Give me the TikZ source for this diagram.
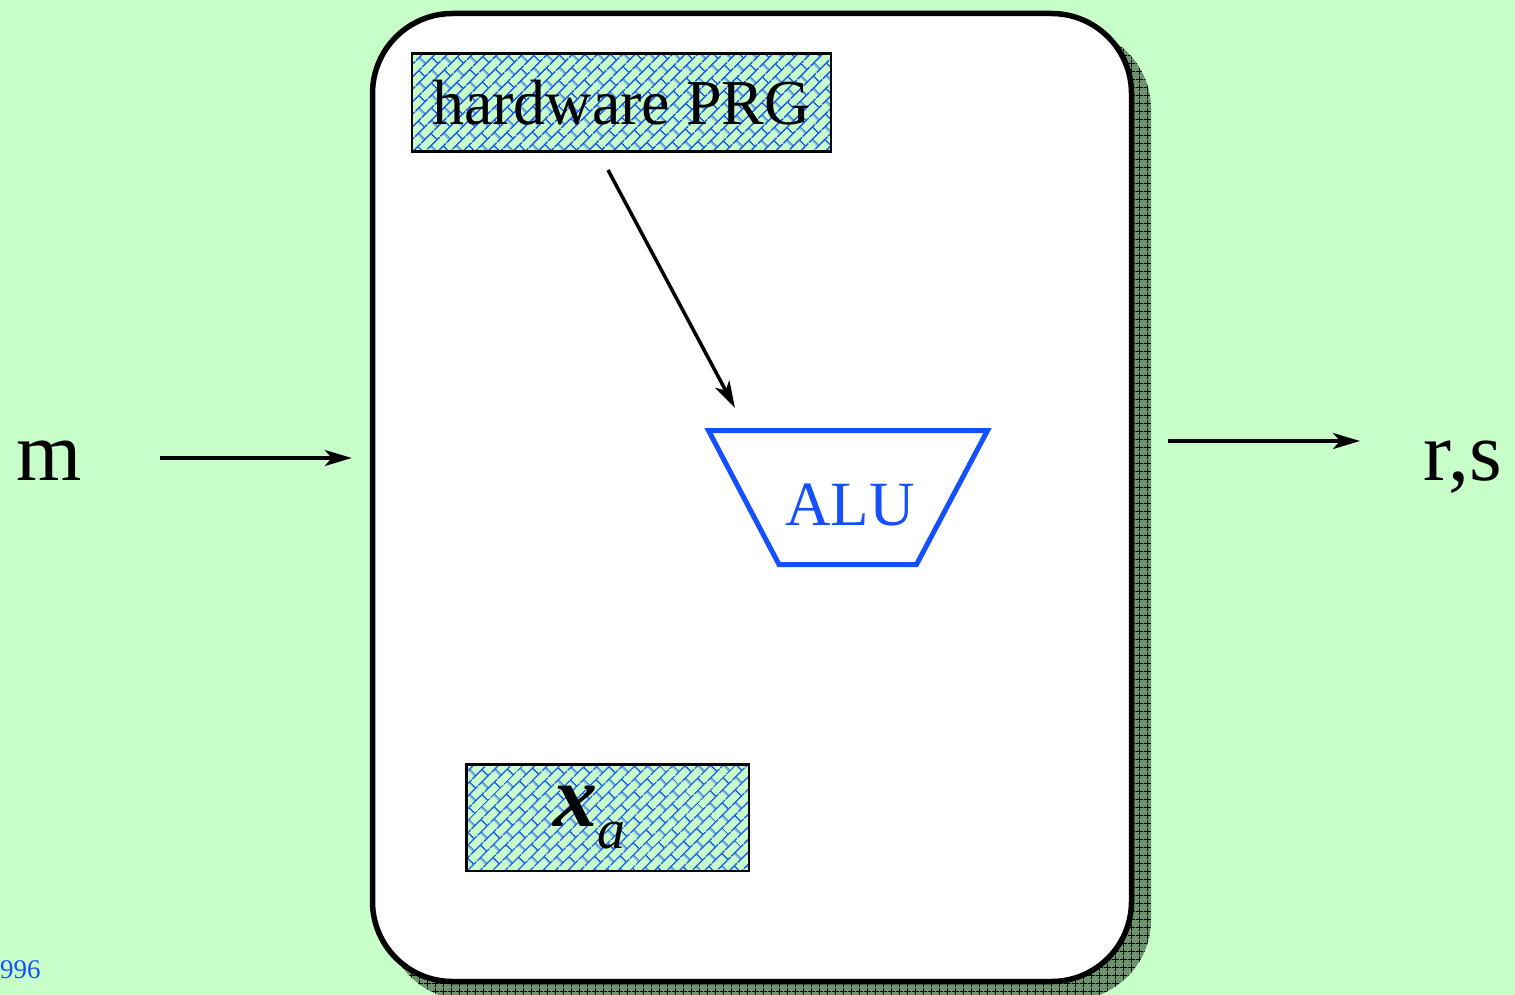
\documentclass[tikz,border=0pt]{standalone}
\usepackage{fontspec}
\setmainfont{Liberation Serif}
\usetikzlibrary{patterns.meta,arrows.meta}
\definecolor{bgc}{RGB}{200,255,200}
\definecolor{alublue}{RGB}{20,80,255}
\definecolor{patblue}{RGB}{35,95,245}
\definecolor{shgreen}{RGB}{108,148,108}
\tikzdeclarepattern{
  name=bricks, type=uncolored,
  bottom left={(0pt,0pt)}, top right={(18pt,18pt)}, tile size={(18pt,18pt)},
  tile transformation={rotate=45},
  code={\draw[line width=1.6pt] (0pt,4.5pt)--(18pt,4.5pt) (0pt,13.5pt)--(18pt,13.5pt) (4.5pt,4.5pt)--(4.5pt,13.5pt) (13.5pt,13.5pt)--(13.5pt,18pt) (13.5pt,0pt)--(13.5pt,4.5pt);}
}
\tikzdeclarepattern{
  name=shgrid, type=uncolored,
  bottom left={(0pt,0pt)}, top right={(8pt,8pt)}, tile size={(8pt,8pt)},
  code={\draw[line width=0.8pt] (0pt,4pt)--(8pt,4pt) (4pt,0pt)--(4pt,8pt);}
}
\tikzset{
  arr/.style={line width=3.5pt, -{Stealth[length=27pt,width=16pt,inset=7pt]}},
  hatchbox/.style={draw, line width=2.5pt, inner sep=0pt, preaction={fill=bgc}, pattern=bricks, pattern color=patblue},
  shadowbox/.style={inner sep=0pt, rounded corners=80pt, preaction={fill=shgreen}, pattern=shgrid, pattern color=black},
  mainbox/.style={draw, line width=5.5pt, fill=white, inner sep=0pt, rounded corners=80pt},
  bigtxt/.style={inner sep=0pt, font=\fontsize{84}{84}\selectfont},
}
\begin{document}
\begin{tikzpicture}[x=1pt,y=-1pt]
\useasboundingbox[fill=bgc] (0,0) rectangle (1515,995);
\node[shadowbox, minimum width=764, minimum height=971] (shadow) at (769,514.5) {};
\node[mainbox, minimum width=759, minimum height=968] (box) at (752,497.5) {};

\node[hatchbox, minimum width=419, minimum height=98, font=\fontsize{64}{64}\selectfont] (prg) at (621.5,102.5) {hardware PRG};

\node[text=alublue, font=\fontsize{63}{63}\selectfont, inner sep=0pt] (alu) at (850,505.5) {ALU};
\draw[alublue, line width=5pt] ([shift={(-141.5,-75)}]alu.center) -- ([shift={(137.5,-75)}]alu.center) -- ([shift={(66.5,59)}]alu.center) -- ([shift={(-71,59)}]alu.center) -- cycle;

\draw[arr] ([shift={(-13.5,67.5)}]prg.center) -- ([shift={(-115,-97.5)}]alu.center);

\node[hatchbox, minimum width=282.5, minimum height=106.5] (xa) at (607.5,817.5) {{\fontsize{88}{88}\selectfont\bfseries\itshape x}\raisebox{-22pt}{\fontsize{56}{56}\selectfont\itshape a}\rule{36pt}{0pt}};

\node[bigtxt, anchor=base] (m) at (49.5,480) {m};
\node[bigtxt, anchor=base] (rs) at (1463,480) {r,s};

\coordinate (inl) at (160,458);
\draw[arr, shorten >=18pt] (inl) -- (inl -| box.west);
\coordinate (outr) at (1360,441);
\draw[arr, shorten <=34pt] (outr -| box.east) -- (outr);

\node[text=alublue, font=\fontsize{27}{27}\selectfont, anchor=base west, inner sep=0pt] (yr) at (0,978) {996};
\end{tikzpicture}
\end{document}
